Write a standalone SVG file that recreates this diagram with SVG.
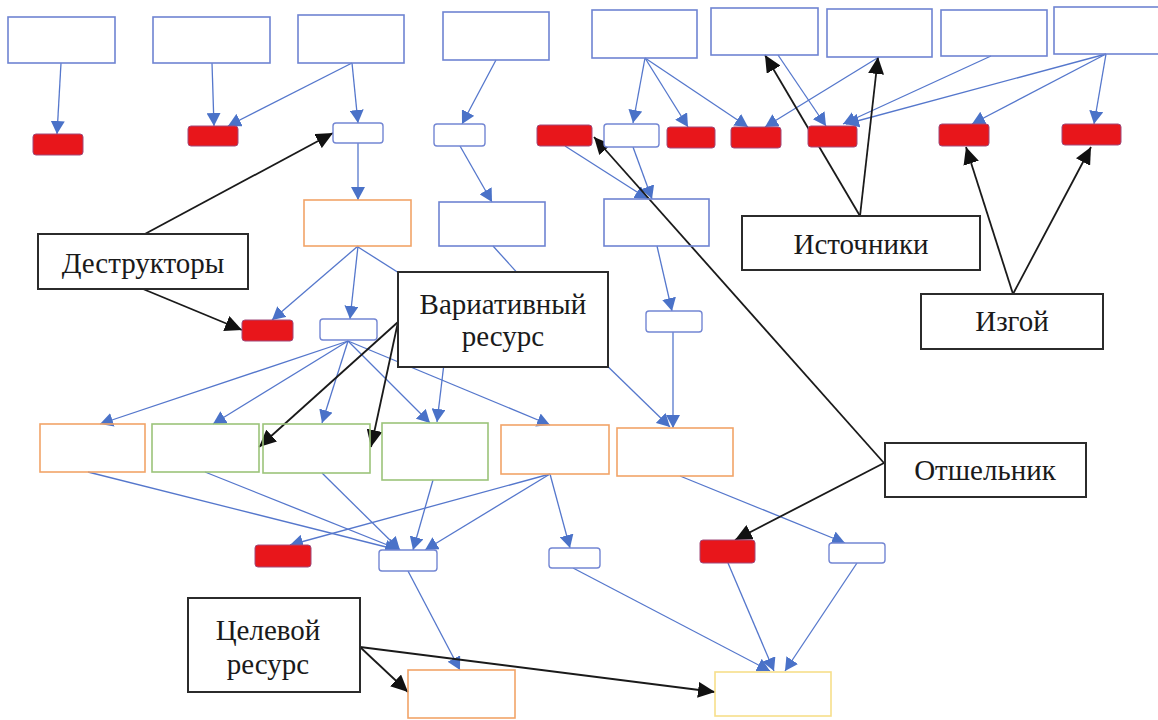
<svg xmlns="http://www.w3.org/2000/svg" width="1158" height="720" viewBox="0 0 1158 720">
<style>
.bl{fill:none;stroke:#6f84d2;stroke-width:1.6}
.or{fill:none;stroke:#f2a468;stroke-width:1.6}
.gr{fill:none;stroke:#9cc47a;stroke-width:1.6}
.ye{fill:none;stroke:#f7df8a;stroke-width:1.6}
.sm{fill:#fff;stroke:#7386d3;stroke-width:1.4}
.rd{fill:#e8161b;stroke:#a04a7a;stroke-width:1}
.lb{fill:#fff;stroke:#2b2b2b;stroke-width:2}
.c{stroke:#5577cc;stroke-width:1.3;fill:none;marker-end:url(#ab)}
.h{stroke:#5577cc;stroke-width:1.3;fill:none}
.k{stroke:#1a1a1a;stroke-width:1.8;fill:none;marker-end:url(#ak)}
text{font-family:"Liberation Serif","Times New Roman",serif;font-size:29px;fill:#1a1a1a;text-anchor:middle}
</style>
<defs>
<marker id="ab" markerUnits="userSpaceOnUse" markerWidth="14" markerHeight="14" refX="13" refY="7" orient="auto"><path d="M0,0 L13,7 L0,14 z" fill="#4a72c8"/></marker>
<marker id="ak" markerUnits="userSpaceOnUse" markerWidth="18" markerHeight="16" refX="17" refY="8" orient="auto"><path d="M0,0 L17,8 L0,16 z" fill="#111"/></marker>
</defs>
<rect width="1158" height="720" fill="#fff"/>
<g id="connectors">
<line class="c" x1="61" y1="63" x2="57" y2="134"/>
<line class="c" x1="212" y1="63" x2="214" y2="126"/>
<line class="c" x1="352" y1="63" x2="228" y2="126"/>
<line class="c" x1="352" y1="63" x2="358" y2="123"/>
<line class="c" x1="358" y1="143" x2="358" y2="200"/>
<line class="c" x1="496" y1="60" x2="462" y2="124"/>
<line class="c" x1="460" y1="146" x2="492" y2="202"/>
<line class="c" x1="645" y1="58" x2="633" y2="123"/>
<line class="c" x1="645" y1="58" x2="688" y2="127"/>
<line class="c" x1="645" y1="58" x2="748" y2="127"/>
<line class="c" x1="879" y1="57" x2="765" y2="127"/>
<line class="c" x1="778" y1="55" x2="826" y2="126"/>
<line class="c" x1="991" y1="56" x2="843" y2="124"/>
<line class="c" x1="1106" y1="54" x2="846" y2="124"/>
<line class="c" x1="1106" y1="54" x2="972" y2="124"/>
<line class="c" x1="1106" y1="54" x2="1094" y2="124"/>
<line class="c" x1="633" y1="147" x2="652" y2="199"/>
<line class="c" x1="565" y1="146" x2="648" y2="199"/>
<line class="c" x1="358" y1="246" x2="272" y2="320"/>
<line class="c" x1="358" y1="246" x2="350" y2="319"/>
<line class="h" x1="358" y1="247" x2="440" y2="299"/>
<line class="h" x1="493" y1="246" x2="530" y2="287"/>
<line class="c" x1="448" y1="330" x2="437" y2="422"/>
<line class="c" x1="560" y1="320" x2="670" y2="427"/>
<line class="c" x1="657" y1="246" x2="672" y2="311"/>
<line class="c" x1="673" y1="332" x2="673" y2="428"/>
<line class="c" x1="348" y1="341" x2="100" y2="424"/>
<line class="c" x1="348" y1="341" x2="213" y2="424"/>
<line class="c" x1="348" y1="341" x2="322" y2="423"/>
<line class="c" x1="348" y1="341" x2="430" y2="423"/>
<line class="c" x1="348" y1="341" x2="550" y2="425"/>
<line class="c" x1="88" y1="472" x2="398" y2="550"/>
<line class="c" x1="205" y1="472" x2="400" y2="550"/>
<line class="c" x1="322" y1="473" x2="400" y2="550"/>
<line class="c" x1="433" y1="480" x2="413" y2="550"/>
<line class="c" x1="550" y1="474" x2="290" y2="545"/>
<line class="c" x1="550" y1="474" x2="425" y2="550"/>
<line class="c" x1="550" y1="474" x2="570" y2="548"/>
<line class="c" x1="680" y1="476" x2="845" y2="543"/>
<line class="c" x1="408" y1="571" x2="460" y2="670"/>
<line class="c" x1="573" y1="568" x2="770" y2="671"/>
<line class="c" x1="728" y1="563" x2="774" y2="671"/>
<line class="c" x1="857" y1="563" x2="785" y2="671"/>
<line class="k" x1="143" y1="235" x2="333" y2="133"/>
<line class="k" x1="143" y1="289" x2="242" y2="330"/>
<line class="k" x1="860" y1="216" x2="765" y2="55"/>
<line class="k" x1="860" y1="216" x2="878" y2="57"/>
<line class="k" x1="1013" y1="294" x2="966" y2="147"/>
<line class="k" x1="1013" y1="294" x2="1091" y2="147"/>
<line class="k" x1="398" y1="322" x2="259" y2="447"/>
<line class="k" x1="398" y1="322" x2="371" y2="447"/>
<line class="k" x1="884" y1="463" x2="594" y2="137"/>
<line class="k" x1="884" y1="463" x2="735" y2="540"/>
<line class="k" x1="360" y1="647" x2="408" y2="692"/>
<line class="k" x1="360" y1="647" x2="715" y2="692"/>
</g>
<g id="A1"><rect class="bl" x="8" y="17" width="107" height="46"/></g>
<g id="A2"><rect class="bl" x="153" y="17" width="117" height="46"/></g>
<g id="A3"><rect class="bl" x="298" y="15" width="106" height="48"/></g>
<g id="A4"><rect class="bl" x="443" y="12" width="106" height="48"/></g>
<g id="A5"><rect class="bl" x="592" y="10" width="105" height="48"/></g>
<g id="A6"><rect class="bl" x="711" y="8" width="107" height="47"/></g>
<g id="A7"><rect class="bl" x="827" y="9" width="105" height="48"/></g>
<g id="A8"><rect class="bl" x="941" y="10" width="106" height="46"/></g>
<g id="A9"><rect class="bl" x="1054" y="7" width="110" height="47"/></g>
<g id="R1"><rect class="rd" x="33" y="134" width="50" height="21" rx="3"/></g>
<g id="R2"><rect class="rd" x="188" y="126" width="50" height="20" rx="3"/></g>
<g id="W1"><rect class="sm" x="333" y="123" width="50" height="20" rx="3"/></g>
<g id="W2"><rect class="sm" x="434" y="124" width="51" height="22" rx="3"/></g>
<g id="R3"><rect class="rd" x="537" y="125" width="55" height="21" rx="3"/></g>
<g id="W3"><rect class="sm" x="604" y="124" width="55" height="23" rx="3"/></g>
<g id="R4"><rect class="rd" x="667" y="127" width="48" height="21" rx="3"/></g>
<g id="R5"><rect class="rd" x="731" y="127" width="50" height="21" rx="3"/></g>
<g id="R6"><rect class="rd" x="808" y="126" width="49" height="21" rx="3"/></g>
<g id="R7"><rect class="rd" x="939" y="124" width="50" height="22" rx="3"/></g>
<g id="R8"><rect class="rd" x="1062" y="124" width="59" height="21" rx="3"/></g>
<g id="O1"><rect class="or" x="304" y="200" width="107" height="46"/></g>
<g id="B1"><rect class="bl" x="439" y="202" width="106" height="44"/></g>
<g id="B2"><rect class="bl" x="604" y="199" width="105" height="47"/></g>
<g id="R9"><rect class="rd" x="242" y="320" width="51" height="21" rx="3"/></g>
<g id="W4"><rect class="sm" x="320" y="319" width="57" height="21" rx="3"/></g>
<g id="W5"><rect class="sm" x="646" y="311" width="56" height="21" rx="3"/></g>
<g id="O2"><rect class="or" x="40" y="424" width="105" height="48"/></g>
<g id="G1"><rect class="gr" x="152" y="424" width="107" height="48"/></g>
<g id="G2"><rect class="gr" x="263" y="424" width="107" height="49"/></g>
<g id="G3"><rect class="gr" x="382" y="423" width="106" height="57"/></g>
<g id="O3"><rect class="or" x="501" y="425" width="108" height="49"/></g>
<g id="O4"><rect class="or" x="617" y="428" width="116" height="48"/></g>
<g id="R10"><rect class="rd" x="255" y="545" width="56" height="22" rx="3"/></g>
<g id="W6"><rect class="sm" x="379" y="550" width="58" height="21" rx="3"/></g>
<g id="W7"><rect class="sm" x="549" y="548" width="51" height="20" rx="3"/></g>
<g id="R11"><rect class="rd" x="700" y="540" width="55" height="23" rx="3"/></g>
<g id="W8"><rect class="sm" x="829" y="543" width="56" height="20" rx="3"/></g>
<g id="O5"><rect class="or" x="408" y="670" width="107" height="48"/></g>
<g id="Y1"><rect class="ye" x="715" y="672" width="116" height="44"/></g>
<g id="L-destr"><rect class="lb" x="38" y="234" width="210" height="55"/><text x="143" y="273">Деструкторы</text></g>
<g id="L-source"><rect class="lb" x="742" y="216" width="238" height="54"/><text x="861" y="254">Источники</text></g>
<g id="L-outcast"><rect class="lb" x="921" y="294" width="182" height="55"/><text x="1012" y="331">Изгой</text></g>
<g id="L-var"><rect class="lb" x="398" y="272" width="210" height="95"/><text x="503" y="314">Вариативный</text><text x="503" y="346">ресурс</text></g>
<g id="L-hermit"><rect class="lb" x="885" y="443" width="201" height="54"/><text x="985" y="480">Отшельник</text></g>
<g id="L-target"><rect class="lb" x="188" y="598" width="172" height="94"/><text x="268" y="640">Целевой</text><text x="268" y="674">ресурс</text></g>
</svg>
